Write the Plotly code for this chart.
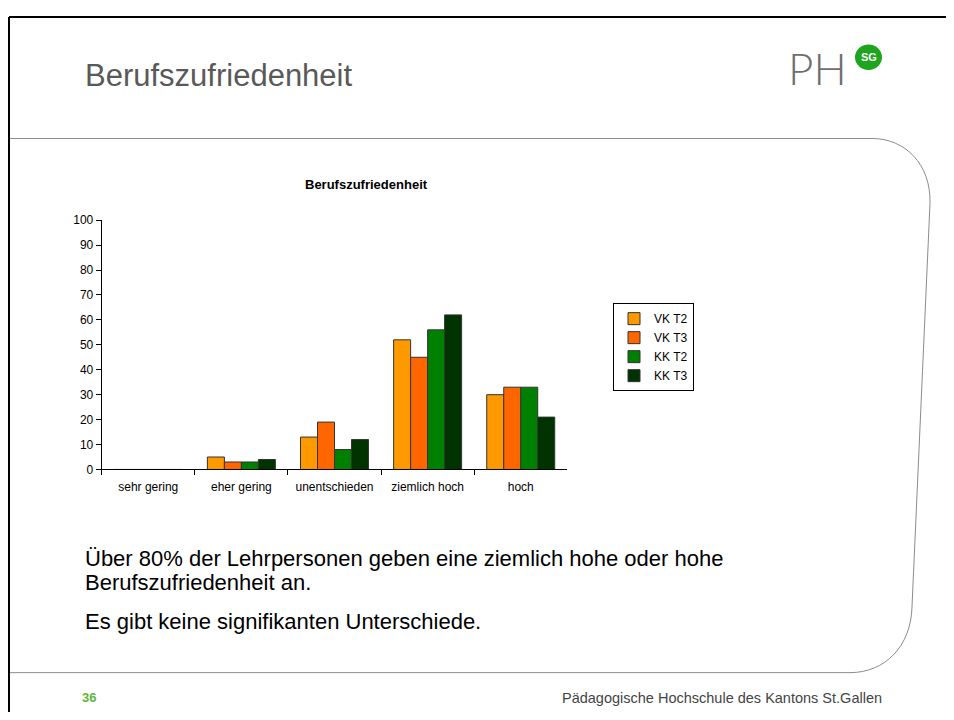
import plotly.graph_objects as go

OFF = 8  # browser body margin
W, H = 954 - 2 * OFF, 720 - 2 * OFF

categories = ["sehr gering", "eher gering", "unentschieden", "ziemlich hoch", "hoch"]
series_names = ["VK T2", "VK T3", "KK T2", "KK T3"]
vk_t2 = [0, 5, 13, 52, 30]
vk_t3 = [0, 3, 19, 45, 33]
kk_t2 = [0, 3, 8, 56, 33]
kk_t3 = [0, 4, 12, 62, 21]
series_values = [vk_t2, vk_t3, kk_t2, kk_t3]
series_colors = ["#FF9900", "#FF6600", "#008000", "#003300"]
y_ticks = list(range(0, 101, 10))

FONT = "Liberation Sans, Arial, sans-serif"


def px(x):
    return (x - OFF) / W


def py(y):
    return 1 - (y - OFF) / H


fig = go.Figure()
for name, vals, col in zip(series_names, series_values, series_colors):
    fig.add_trace(go.Bar(
        x=categories, y=vals, name=name,
        marker=dict(color=col, line=dict(color="#333333", width=1)),
    ))

# plot area in reference pixels
x0, x1 = 101.7, 567.3
y0, y1 = 217.3, 471.7

fig.update_layout(
    width=W, height=H,
    margin=dict(l=0, r=0, t=0, b=0),
    paper_bgcolor="white", plot_bgcolor="white",
    barmode="group", bargap=0.27, bargroupgap=0,
    font=dict(family=FONT, size=12, color="#000000"),
    showlegend=True,
    legend=dict(
        x=px(613), y=py(302), xanchor="left", yanchor="top",
        bordercolor="#000000", borderwidth=1, bgcolor="white",
        font=dict(size=12, family=FONT), itemwidth=30,
        tracegroupgap=0,
    ),
    xaxis=dict(
        domain=[px(x0), px(x1)], type="category",
        showline=True, linecolor="#000000", linewidth=1,
        ticks="outside", ticklen=5, tickcolor="#000000", tickson="boundaries",
        ticklabelstandoff=6,
        showgrid=False, tickfont=dict(size=12), fixedrange=True,
    ),
    yaxis=dict(
        domain=[py(y1), py(y0)], range=[0, 100],
        tickvals=y_ticks, ticktext=[str(v) for v in y_ticks],
        showline=True, linecolor="#000000", linewidth=1,
        ticks="outside", ticklen=5, tickcolor="#000000",
        showgrid=False, zeroline=False, tickfont=dict(size=12),
    ),
)

shapes = []
# black slide border (top and left)
shapes.append(dict(type="line", xref="paper", yref="paper",
                   x0=px(9), y0=py(10), x1=px(954), y1=py(10),
                   line=dict(color="#000000", width=2)))
shapes.append(dict(type="line", xref="paper", yref="paper",
                   x0=px(9), y0=py(10), x1=px(9), y1=py(720),
                   line=dict(color="#000000", width=2)))


def pt(x, y):
    return f"{px(x):.5f},{py(y):.5f}"


frame_path = (
    f"M {pt(10,134)} L {pt(872,134)} "
    f"C {pt(905,134)} {pt(931,160)} {pt(930,200)} "
    f"L {pt(912,612)} "
    f"C {pt(911,652)} {pt(885,679)} {pt(850,679)} "
    f"L {pt(10,679)}"
)
shapes.append(dict(type="path", xref="paper", yref="paper", path=frame_path,
                   line=dict(color="#8c8c8c", width=1)))
# SG logo circle
shapes.append(dict(type="circle", xref="paper", yref="paper",
                   x0=px(855), x1=px(882), y0=py(38), y1=py(64),
                   fillcolor="#1EA51E", line=dict(width=0)))
fig.update_layout(shapes=shapes)


def text(t, x, y, size, color, xanchor="left", family=FONT, weight=None):
    f = dict(size=size, color=color, family=family)
    if weight is not None:
        f["weight"] = weight
    return dict(text=t, x=px(x), y=py(y), xref="paper", yref="paper",
                xanchor=xanchor, yanchor="middle", showarrow=False, font=f)


ann = [
    text("Berufszufriedenheit", 83, 70, 31, "#595959"),
    text("PH", 786, 62, 44, "#6e6e6e", family="Lato, Liberation Sans, sans-serif", weight=300),
    text("<b>SG</b>", 868.5, 51, 11, "#ffffff", "center"),
    text("<b>Berufszufriedenheit</b>", 366, 181, 13, "#000000", "center"),
    text("Über 80% der Lehrpersonen geben eine ziemlich hohe oder hohe", 83, 563, 22, "#000000"),
    text("Berufszufriedenheit an.", 83, 587, 22, "#000000"),
    text("Es gibt keine signifikanten Unterschiede.", 83, 627, 22, "#000000"),
    text("<b>36</b>", 80, 704, 13, "#5DB83A"),
    text("Pädagogische Hochschule des Kantons St.Gallen", 884, 705, 14.5, "#444444", "right"),
]
fig.update_layout(annotations=ann)

fig.write_html("out.html")
